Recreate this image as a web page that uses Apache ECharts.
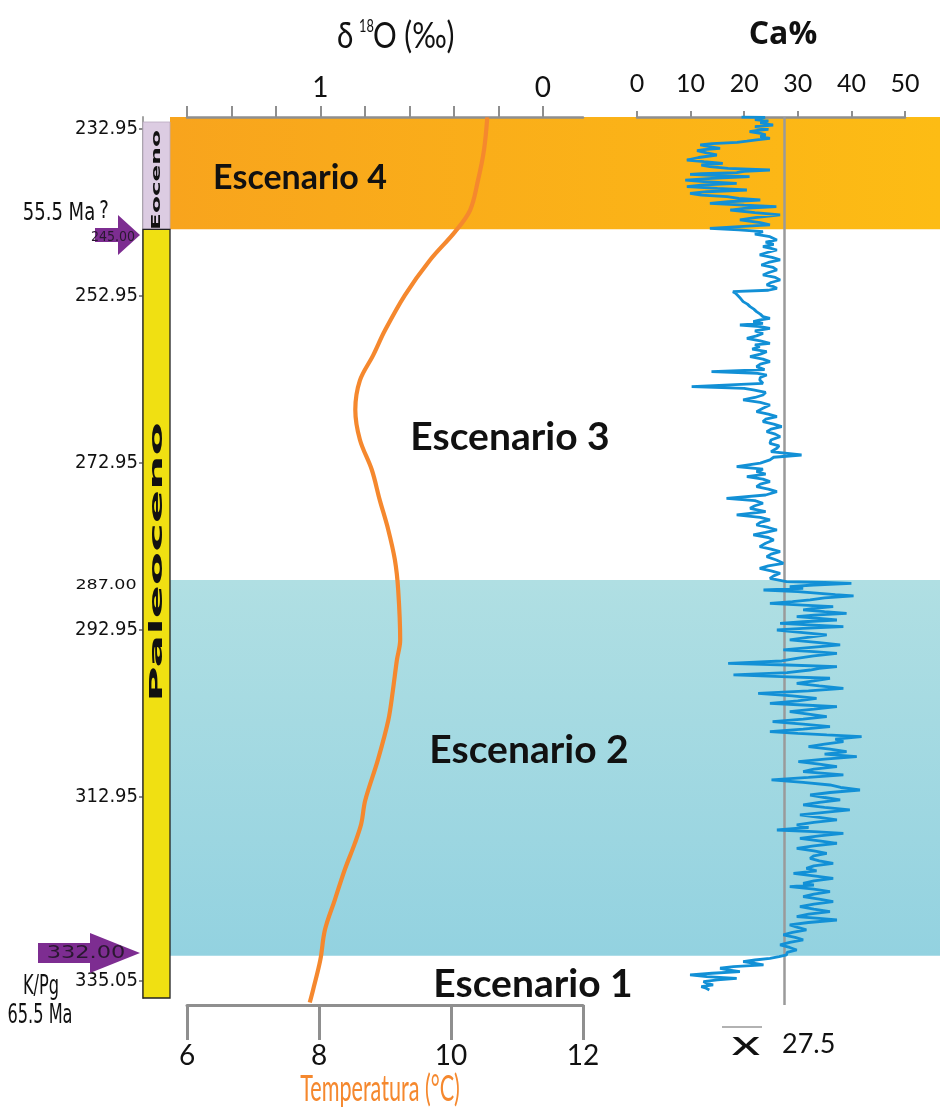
<!DOCTYPE html>
<html><head><meta charset="utf-8">
<script src="https://cdn.jsdelivr.net/npm/echarts@6/dist/echarts.min.js"></script>
<style>html,body{margin:0;padding:0;background:#fff}#c{width:940px;height:1110px}</style>
</head><body><div id="c"></div>
<script>
// ---------------- data ----------------
const depthTop = 231.55;      // top of the drawn record
const depthBottom = 337.9;    // bottom of the temperature / Ca panels
const depthTicks = [232.95, 252.95, 272.95, 292.95, 312.95, 335.05];
const scenarioNames = ['Escenario 4', 'Escenario 3', 'Escenario 2', 'Escenario 1'];
const scenarioFrom = [231.55, 245.00, 287.00, 332.00];
const scenarioTo   = [245.00, 287.00, 332.00, 337.90];
const epochNames = ['Eoceno', 'Paleoceno'];
const epochFrom = [232.15, 245.00];
const epochTo   = [245.00, 337.06];
const d18oTicks = [0, 0.2, 0.4, 0.6, 0.8, 1.0, 1.2, 1.4, 1.6];
const d18oLabels = [0, 1];
const tempMin = 6, tempMax = 12, tempStep = 2;
const caMin = 0, caMax = 50, caStep = 10;
const caMean = 27.5;

// temperature (°C) curve: depth, value
const tempDepth  = [231.6, 235.5, 239.1, 242.7, 245.3, 248.7, 252.9, 257.1, 260.1, 263.1, 266.6, 270.2, 273.8, 277.4, 281.0, 284.6, 288.2, 294.2, 296.6, 300.2, 303.8, 308.6, 313.4, 316.2, 318.6, 321.7, 325.3, 328.9, 332.5, 336.1, 337.6];
const tempValues = [10.55, 10.50, 10.41, 10.29, 10.06, 9.68, 9.30, 9.00, 8.82, 8.62, 8.55, 8.62, 8.80, 8.92, 9.05, 9.15, 9.20, 9.23, 9.18, 9.12, 9.05, 8.89, 8.70, 8.64, 8.54, 8.39, 8.24, 8.09, 8.02, 7.91, 7.86];

// Ca% profile: [depth, Ca%]
const caProfile = [
 [231.55,19.5],[231.6,23.9],[231.85,22.0],[232.03,24.5],[232.25,23.0],[232.51,25.4],[232.71,22.0],[232.88,23.8],[233.03,24.5],[233.15,22.5],
 [233.3,21.0],[233.5,23.0],[233.7,24.0],[233.9,23.0],[234.1,24.8],[234.3,22.3],[234.45,20.5],[234.58,18.7],[234.75,14.0],[234.9,11.8],
 [235.1,13.5],[235.3,15.5],[235.45,12.5],[235.58,11.2],[235.85,13.0],[236.1,14.9],[236.4,11.5],[236.7,9.3],[236.9,12.5],[237.1,16.0],
 [237.3,12.0],[237.5,13.6],[237.7,17.0],[237.9,24.8],[238.05,20.0],[238.22,18.6],[238.32,12.0],[238.42,9.9],[238.56,15.0],[238.7,21.0],
 [238.9,14.0],[239.1,9.0],[239.3,12.5],[239.5,18.6],[239.7,12.0],[239.89,9.3],[240.1,15.0],[240.29,20.5],[240.5,13.0],[240.69,9.9],
 [240.9,12.0],[241.09,16.8],[241.3,19.0],[241.49,23.0],[241.7,17.0],[241.89,13.6],[242.1,20.0],[242.29,26.0],[242.5,20.0],[242.69,17.4],
 [243.0,22.0],[243.28,26.7],[243.6,22.0],[243.88,19.2],[244.2,23.0],[244.48,24.8],[244.68,19.0],[244.88,13.6],[245.08,19.0],[245.28,23.5],
 [245.58,22.0],[245.88,24.8],
 [246.28,26.1],[246.55,24.0],[246.8,25.5],[247.08,23.5],[247.28,25.0],[247.48,26.1],[247.78,24.3],[248.07,22.9],[248.37,25.2],[248.67,26.7],
 [248.97,24.5],[249.27,23.2],[249.57,25.4],[249.87,26.1],[250.17,24.6],[250.47,23.5],[250.77,25.8],[251.07,26.7],[251.37,25.0],[251.67,24.2],
 [251.87,25.5],[252.07,26.1],[252.3,24.5],[252.47,17.9],[252.66,18.4],[252.86,18.6],[253.26,19.3],[253.66,19.8],[253.96,20.6],[254.26,21.1],
 [254.56,21.8],[254.86,22.3],[255.16,23.0],[255.46,23.5],[255.66,24.8],[255.86,23.0],[256.06,21.7],[256.26,23.5],[256.46,19.2],[256.66,23.0],
 [256.86,24.8],[257.16,22.0],[257.46,23.5],[257.76,22.3],[258.05,20.5],[258.35,23.0],[258.65,24.8],[258.85,22.0],[259.05,22.9],[259.35,21.5],
 [259.65,24.2],[259.95,23.0],[260.25,21.1],[260.55,23.5],[260.85,24.8],[261.15,23.0],[261.45,22.3],[261.8,23.8],[262.05,13.9],[262.25,22.5],
 [262.45,24.2],[262.75,23.0],[263.04,22.9],[263.44,23.5],[263.84,10.2],[264.04,20.0],[264.24,21.7],[264.54,24.0],[264.84,23.5],[265.14,22.0],
 [265.44,19.8],[265.74,23.0],[266.04,24.8],[266.44,23.5],[266.84,22.3],[267.14,24.5],[267.44,26.1],[267.74,24.0],[268.03,23.5],[268.33,25.5],
 [268.63,27.0],[268.93,25.0],[269.23,24.2],[269.53,25.8],[269.83,26.7],[270.23,25.0],[270.63,24.8],[270.93,26.5],[271.23,26.1],[271.63,25.0],
 [272.03,30.7],[272.3,25.5],[272.62,24.8],[273.0,23.0],[273.42,18.6],[273.72,23.5],[274.02,22.3],[274.32,24.0],[274.62,20.5],[274.92,23.5],
 [275.22,24.8],[275.52,23.0],[275.82,22.3],[276.12,24.5],[276.42,26.1],[276.82,24.0],[277.22,16.7],[277.5,22.0],[277.81,23.5],[278.11,22.0],
 [278.41,21.1],[278.81,24.0],[279.21,18.6],[279.51,23.0],[279.81,24.8],[280.11,23.0],[280.41,22.3],[280.71,24.5],[281.01,26.1],[281.31,24.0],
 [281.61,21.7],[281.91,24.5],[282.21,25.5],[282.6,24.0],[283.0,22.9],[283.3,25.0],[283.6,26.7],[283.9,25.0],[284.2,24.2],[284.6,26.0],
 [285.0,27.3],[285.3,24.5],[285.6,22.9],[285.9,25.0],[286.2,26.7],[286.5,25.5],[286.8,24.8],
 [287.2,27.9],[287.3,35.0],[287.4,40.0],[287.6,33.0],[287.8,28.5],[288.0,31.0],[288.2,23.6],[288.4,30.0],[288.59,34.1],[288.75,37.0],
 [288.91,40.4],[289.15,35.0],[289.39,32.3],[289.6,29.0],[289.79,24.8],[290.0,31.0],[290.19,36.6],[290.4,33.0],[290.59,31.0],[290.8,35.0],
 [290.99,39.1],[291.2,33.0],[291.39,29.8],[291.6,34.0],[291.79,37.3],[292.0,31.0],[292.19,26.7],[292.4,33.0],[292.59,38.5],[292.8,31.0],
 [292.99,26.1],[293.3,31.0],[293.58,35.4],[293.9,31.5],[294.18,28.5],[294.5,34.0],[294.78,37.9],[295.1,32.0],[295.38,27.3],[295.58,33.0],
 [295.78,37.3],[296.1,33.0],[296.38,29.8],[296.7,27.0],[296.98,17.0],[297.18,28.0],[297.38,37.3],[297.58,34.0],[297.78,32.3],[298.1,28.0],
 [298.37,18.0],[298.57,27.0],[298.77,36.0],[299.07,33.0],[299.37,29.8],[299.67,34.0],[299.97,38.5],[300.27,32.0],[300.57,22.6],[300.87,29.0],
 [301.17,33.5],[301.47,30.0],[301.77,24.8],[301.97,31.0],[302.17,37.3],[302.47,33.0],[302.77,28.5],[303.07,32.0],[303.36,35.4],[303.66,31.0],
 [303.96,25.3],[304.26,31.0],[304.56,36.0],[304.86,31.0],[305.16,24.8],[305.36,30.0],[305.56,35.4],[305.76,41.9],[306.06,37.0],[306.36,38.5],
 [306.66,35.0],[306.96,32.0],[307.26,36.0],[307.56,39.1],[307.86,35.0],[308.16,41.0],[308.46,35.0],[308.75,30.1],[309.05,34.0],[309.35,37.3],
 [309.65,33.0],[309.95,31.0],[310.15,35.0],[310.35,38.5],[310.65,32.0],[310.95,25.1],[311.25,31.0],[311.55,36.0],[311.85,38.0],[312.15,41.6],
 [312.45,36.0],[312.75,32.3],[313.05,35.0],[313.34,37.9],[313.64,34.0],[313.94,31.0],[314.24,35.0],[314.54,39.7],[314.84,35.0],[315.14,30.4],
 [315.44,34.0],[315.74,37.3],[316.04,33.0],[316.34,29.8],[316.64,32.0],[316.94,26.1],[317.14,33.0],[317.34,38.5],[317.64,34.0],[317.94,30.4],
 [318.24,34.0],[318.53,37.3],[318.83,33.0],[319.13,29.8],[319.43,33.0],[319.73,35.4],[320.03,33.0],[320.33,32.3],[320.63,34.0],[320.93,36.6],
 [321.23,33.0],[321.53,31.6],[321.83,33.5],[322.13,29.2],[322.43,33.0],[322.73,36.6],[323.03,33.0],[323.33,31.0],[323.53,33.0],[323.72,28.5],
 [324.02,33.0],[324.32,36.0],[324.62,33.0],[324.92,31.0],[325.22,34.0],[325.52,36.6],[325.82,33.0],[326.12,30.4],[326.42,33.0],[326.72,36.0],
 [327.02,32.0],[327.32,29.8],[327.52,34.0],[327.72,37.3],[328.02,32.0],[328.31,28.5],[328.61,30.0],[328.91,31.6],[329.21,29.0],[329.51,27.3],
 [329.81,29.5],[330.11,31.0],[330.41,28.5],[330.71,26.7],[331.01,28.5],[331.31,29.8],[331.61,28.0],[331.91,27.9],
 [332.11,26.5],[332.31,24.8],[332.51,22.0],[332.71,19.8],[332.9,22.0],[333.1,23.6],[333.3,18.0],[333.5,15.5],[333.7,17.0],[333.9,19.2],
 [334.1,14.0],[334.3,9.9],[334.5,13.0],[334.7,18.6],[334.9,15.0],[335.1,12.4],[335.3,13.0],[335.5,14.2],[335.7,12.0],[335.9,12.9],[336.1,13.5]
];

// ---------------- styles ----------------
const NARROW = '"Liberation Sans Narrow","DejaVu Sans Condensed",sans-serif';
const grey = '#8f8f8f';
const ink = '#111111';
const G = echarts.graphic;
const bandStyles = [
  {fill: new G.LinearGradient(0, 0, 1, 0, [{offset: 0, color: '#F8A41D'}, {offset: 1, color: '#FDBC14'}])},
  null,
  {fill: new G.LinearGradient(0, 0, 0, 1, [{offset: 0, color: '#B0DFE3'}, {offset: 1, color: '#93D2E0'}])},
  null
];
const epochStyles = [
  {fill: '#DCCCE2', stroke: '#b9a9c0', lineWidth: 0.8},
  {fill: '#F0E012', stroke: '#222222', lineWidth: 1.3}
];

const chart = echarts.init(document.getElementById('c'));

function rectItem(styles) {
  return function (params, api) {
    const i = api.value(0);
    const st = styles[i];
    if (!st) return null;
    const a = api.coord([0, api.value(1)]);
    const b = api.coord([1, api.value(2)]);
    return {type: 'rect', shape: {x: a[0], y: a[1], width: b[0] - a[0], height: b[1] - a[1]}, style: st};
  };
}

const graphics = [];
function txt(x, y, text, st, el) {
  graphics.push(Object.assign({
    type: 'text', x: x, y: y, z: 100, silent: true,
    style: Object.assign({text: text, fill: ink, textAlign: 'center', textVerticalAlign: 'middle'}, st)
  }, el || {}));
}

// titles
txt(337, 36, 'δ', {fontFamily: 'Lato', fontSize: 37, textAlign: 'left'}, {scaleX: 0.8});
txt(359, 27, '18', {fontFamily: 'Lato', fontSize: 17, textAlign: 'left'}, {scaleX: 0.75});
txt(373, 36, 'O (‰)', {fontFamily: 'Lato', fontSize: 37, textAlign: 'left'}, {scaleX: 0.8});
txt(783, 35, 'Ca%', {fontFamily: '"Open Sans"', fontWeight: 'bold', fontSize: 32});
txt(380, 1089, 'Temperatura (°C)', {fontFamily: 'Lato', fontSize: 36, fill: '#F5882E'}, {scaleX: 0.6});

// scenario labels
txt(300, 178, scenarioNames[0], {fontFamily: 'Lato', fontWeight: 'bold', fontSize: 34});
txt(510, 437, scenarioNames[1], {fontFamily: 'Lato', fontWeight: 'bold', fontSize: 39});
txt(529, 750, scenarioNames[2], {fontFamily: 'Lato', fontWeight: 'bold', fontSize: 39});
txt(533, 984, scenarioNames[3], {fontFamily: 'Lato', fontWeight: 'bold', fontSize: 39});

// mean
graphics.push({type: 'line', z: 100, silent: true, shape: {x1: 722, y1: 1027, x2: 762, y2: 1027}, style: {stroke: '#999', lineWidth: 1.5}});
txt(746, 1044, 'x', {fontFamily: 'Lato', fontSize: 34}, {scaleX: 1.7});
txt(782, 1044, String(caMean), {fontFamily: 'Lato', fontSize: 27, textAlign: 'left'});

// epochs (vertical)
txt(157, 180, epochNames[0], {fontFamily: '"DejaVu Sans"', fontWeight: 'bold', fontSize: 13}, {rotation: Math.PI / 2, scaleX: 1.9});
txt(157, 562, epochNames[1], {fontFamily: '"DejaVu Sans"', fontWeight: 'bold', fontSize: 18}, {rotation: Math.PI / 2, scaleX: 2.7});

// left annotations
const purple = '#7D2D91';
graphics.push({type: 'polygon', z: 90, silent: true, shape: {points: [[95, 228], [118, 228], [118, 215], [140, 235], [118, 255], [118, 242], [95, 242]]}, style: {fill: purple}});
graphics.push({type: 'polygon', z: 90, silent: true, shape: {points: [[38, 943], [90, 943], [90, 933], [140, 953], [90, 973], [90, 963], [38, 963]]}, style: {fill: purple}});
txt(113, 237, '245.00', {fontFamily: NARROW, fontSize: 14, fill: '#2a1830'});
txt(86, 953, '332.00', {fontFamily: '"DejaVu Sans"', fontSize: 18, fill: '#2a1830'}, {scaleX: 1.25});
txt(106, 585, '287.00', {fontFamily: '"DejaVu Sans"', fontSize: 14}, {scaleX: 1.25});
txt(59, 214, '55.5 Ma', {fontFamily: NARROW, fontSize: 20}, {scaleY: 1.2});
txt(104, 212, '?', {fontFamily: NARROW, fontSize: 20}, {scaleY: 1.2});
txt(41, 987, 'K/Pg', {fontFamily: NARROW, fontSize: 18}, {scaleY: 1.45});
txt(40, 1016, '65.5 Ma', {fontFamily: NARROW, fontSize: 18}, {scaleY: 1.45});

const axisGrey = {color: grey, width: 2.5};

const option = {
  animation: false,
  backgroundColor: '#ffffff',
  grid: [
    {left: 170, right: 0, top: 117, bottom: 105},
    {left: 143, width: 27, top: 117, bottom: 112},
    {left: 187, width: 396, top: 117, bottom: 105},
    {left: 637, width: 268, top: 117, bottom: 105}
  ],
  xAxis: [
    {gridIndex: 0, type: 'value', min: 0, max: 1, show: false},
    {gridIndex: 1, type: 'value', min: 0, max: 1, show: false},
    {gridIndex: 2, type: 'value', position: 'top', inverse: true, min: -0.18, max: 1.6,
      axisLine: {show: true, lineStyle: axisGrey},
      axisTick: {show: true, customValues: d18oTicks, length: 11, lineStyle: {color: grey, width: 2}},
      axisLabel: {customValues: d18oLabels, fontFamily: 'Lato', fontSize: 28, color: ink, margin: 15},
      splitLine: {show: false}},
    {gridIndex: 2, type: 'value', position: 'bottom', min: tempMin, max: tempMax, interval: tempStep,
      axisLine: {show: true, lineStyle: {color: grey, width: 3}},
      axisTick: {show: true, length: 35, lineStyle: {color: grey, width: 3}},
      axisLabel: {fontFamily: 'Lato', fontSize: 28, color: ink, margin: 37},
      splitLine: {show: false}},
    {gridIndex: 3, type: 'value', position: 'top', min: caMin, max: caMax, interval: caStep,
      axisLine: {show: true, lineStyle: axisGrey},
      axisTick: {show: true, length: 6, lineStyle: {color: grey, width: 2}},
      axisLabel: {fontFamily: 'Lato', fontSize: 25, color: ink, margin: 21},
      splitLine: {show: false}}
  ],
  yAxis: [
    {gridIndex: 0, type: 'value', inverse: true, min: depthTop, max: depthBottom, show: false},
    {gridIndex: 1, type: 'value', inverse: true, min: depthTop, max: epochTo[1], position: 'left', offset: 1,
      axisLine: {show: true, lineStyle: {color: '#a3a3a3', width: 2}},
      axisTick: {show: true, customValues: depthTicks, length: 4, lineStyle: {color: '#8a8a8a', width: 2}},
      axisLabel: {customValues: depthTicks, fontFamily: NARROW, fontSize: 20, color: ink, margin: 4,
        formatter: function (v) { return v.toFixed(2); }},
      splitLine: {show: false}},
    {gridIndex: 2, type: 'value', inverse: true, min: depthTop, max: depthBottom, show: false},
    {gridIndex: 3, type: 'value', inverse: true, min: depthTop, max: depthBottom, show: false}
  ],
  series: [
    {type: 'custom', xAxisIndex: 0, yAxisIndex: 0, z: -1, silent: true,
      renderItem: rectItem(bandStyles),
      data: scenarioNames.map((n, i) => [i, scenarioFrom[i], scenarioTo[i]])},
    {type: 'custom', xAxisIndex: 1, yAxisIndex: 1, z: 1, silent: true,
      renderItem: rectItem(epochStyles),
      data: epochNames.map((n, i) => [i, epochFrom[i], epochTo[i]])},
    {type: 'line', name: 'Temperatura', xAxisIndex: 3, yAxisIndex: 2, z: 5,
      smooth: 0.35, showSymbol: false, silent: true,
      lineStyle: {color: '#F5882E', width: 4.2},
      data: tempDepth.map((d, i) => [tempValues[i], d])},
    {type: 'line', name: 'Ca%', xAxisIndex: 4, yAxisIndex: 3, z: 6,
      showSymbol: false, silent: true,
      lineStyle: {color: '#1290D6', width: 2.8},
      data: caProfile.map(p => [p[1], p[0]]),
      markLine: {symbol: 'none', silent: true, label: {show: false},
        lineStyle: {color: '#9a9a9a', width: 2.5, type: 'solid'},
        data: [{xAxis: caMean}]}}
  ],
  graphic: graphics
};
chart.setOption(option);
</script>
</body></html>
